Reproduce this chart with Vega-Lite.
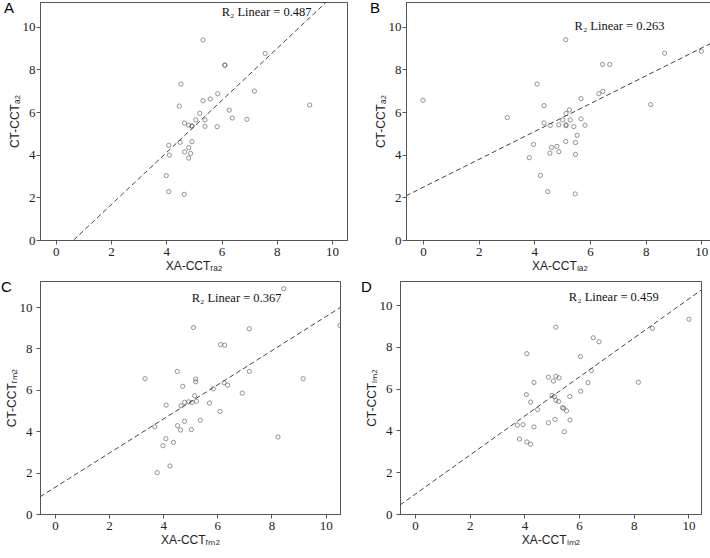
{
  "$schema": "https://vega.github.io/schema/vega-lite/v6.json",
  "padding": {"left": 0, "top": 0, "right": 0, "bottom": 0},
  "background": "white",
  "datasets": {
    "A": [
      {"x": 5.33, "y": 9.38}, {"x": 7.58, "y": 8.75}, {"x": 6.12, "y": 8.2}, {"x": 6.12, "y": 8.2},
      {"x": 4.53, "y": 7.31}, {"x": 7.19, "y": 6.98}, {"x": 5.86, "y": 6.86}, {"x": 5.33, "y": 6.53},
      {"x": 5.59, "y": 6.61}, {"x": 4.47, "y": 6.28}, {"x": 6.28, "y": 6.09}, {"x": 5.21, "y": 5.94},
      {"x": 6.39, "y": 5.72}, {"x": 6.92, "y": 5.66}, {"x": 5.07, "y": 5.63}, {"x": 5.4, "y": 5.63},
      {"x": 4.66, "y": 5.48}, {"x": 4.81, "y": 5.39}, {"x": 4.93, "y": 5.34}, {"x": 4.93, "y": 5.34},
      {"x": 5.4, "y": 5.33}, {"x": 5.84, "y": 5.31}, {"x": 4.09, "y": 4.44}, {"x": 4.5, "y": 4.58},
      {"x": 4.93, "y": 4.61}, {"x": 4.11, "y": 3.98}, {"x": 4.66, "y": 4.13}, {"x": 4.81, "y": 4.33},
      {"x": 4.88, "y": 4.06}, {"x": 4.81, "y": 3.84}, {"x": 4.0, "y": 3.02}, {"x": 4.09, "y": 2.27},
      {"x": 4.65, "y": 2.14}, {"x": 9.19, "y": 6.33}
    ],
    "B": [
      {"x": 0.0, "y": 6.55}, {"x": 3.03, "y": 5.74}, {"x": 5.13, "y": 9.39}, {"x": 6.45, "y": 8.23},
      {"x": 6.71, "y": 8.23}, {"x": 8.68, "y": 8.76}, {"x": 10.0, "y": 8.85}, {"x": 4.1, "y": 7.31},
      {"x": 8.18, "y": 6.35}, {"x": 6.32, "y": 6.86}, {"x": 6.46, "y": 6.97}, {"x": 5.68, "y": 6.63},
      {"x": 4.35, "y": 6.3}, {"x": 5.14, "y": 5.93}, {"x": 5.26, "y": 6.1}, {"x": 4.35, "y": 5.49},
      {"x": 5.02, "y": 5.63}, {"x": 5.29, "y": 5.63}, {"x": 5.68, "y": 5.68}, {"x": 4.57, "y": 5.37},
      {"x": 4.88, "y": 5.4}, {"x": 5.14, "y": 5.4}, {"x": 5.14, "y": 5.36}, {"x": 5.42, "y": 5.32},
      {"x": 5.82, "y": 5.38}, {"x": 5.54, "y": 4.91}, {"x": 5.13, "y": 4.62}, {"x": 5.48, "y": 4.57},
      {"x": 3.97, "y": 4.48}, {"x": 4.62, "y": 4.34}, {"x": 4.81, "y": 4.39}, {"x": 4.56, "y": 4.07},
      {"x": 4.88, "y": 4.14}, {"x": 5.48, "y": 4.01}, {"x": 3.82, "y": 3.86}, {"x": 4.22, "y": 3.03},
      {"x": 4.48, "y": 2.27}, {"x": 5.47, "y": 2.16}
    ],
    "C": [
      {"x": 8.45, "y": 10.89}, {"x": 10.53, "y": 9.11}, {"x": 5.12, "y": 9.01}, {"x": 7.18, "y": 8.95},
      {"x": 6.12, "y": 8.19}, {"x": 6.27, "y": 8.16}, {"x": 3.33, "y": 6.54}, {"x": 4.52, "y": 6.89},
      {"x": 7.18, "y": 6.89}, {"x": 9.17, "y": 6.54}, {"x": 5.2, "y": 6.52}, {"x": 5.2, "y": 6.39},
      {"x": 4.72, "y": 6.17}, {"x": 6.25, "y": 6.34}, {"x": 6.38, "y": 6.23}, {"x": 5.85, "y": 6.05},
      {"x": 6.92, "y": 5.84}, {"x": 5.16, "y": 5.71}, {"x": 4.11, "y": 5.26}, {"x": 4.66, "y": 5.23},
      {"x": 4.79, "y": 5.4}, {"x": 4.94, "y": 5.42}, {"x": 5.07, "y": 5.39}, {"x": 5.23, "y": 5.45},
      {"x": 5.71, "y": 5.36}, {"x": 6.1, "y": 4.96}, {"x": 4.79, "y": 4.48}, {"x": 4.53, "y": 4.27},
      {"x": 5.37, "y": 4.53}, {"x": 3.69, "y": 4.21}, {"x": 4.64, "y": 4.06}, {"x": 5.04, "y": 4.08},
      {"x": 4.1, "y": 3.64}, {"x": 4.38, "y": 3.46}, {"x": 3.99, "y": 3.3}, {"x": 8.24, "y": 3.72},
      {"x": 4.25, "y": 2.32}, {"x": 3.78, "y": 2.0}
    ],
    "D": [
      {"x": 5.15, "y": 8.95}, {"x": 10.02, "y": 9.33}, {"x": 8.68, "y": 8.89}, {"x": 6.52, "y": 8.44},
      {"x": 6.73, "y": 8.25}, {"x": 4.09, "y": 7.68}, {"x": 6.05, "y": 7.54}, {"x": 8.17, "y": 6.31},
      {"x": 6.45, "y": 6.87}, {"x": 4.88, "y": 6.55}, {"x": 5.15, "y": 6.6}, {"x": 5.27, "y": 6.52},
      {"x": 5.06, "y": 6.37}, {"x": 4.35, "y": 6.3}, {"x": 6.33, "y": 6.29}, {"x": 4.07, "y": 5.72},
      {"x": 5.01, "y": 5.68}, {"x": 5.1, "y": 5.62}, {"x": 5.66, "y": 5.63}, {"x": 6.06, "y": 5.88},
      {"x": 4.23, "y": 5.36}, {"x": 5.15, "y": 5.44}, {"x": 5.25, "y": 5.39}, {"x": 5.39, "y": 5.09},
      {"x": 5.44, "y": 5.06}, {"x": 5.54, "y": 4.94}, {"x": 4.48, "y": 5.0}, {"x": 4.88, "y": 4.37},
      {"x": 5.12, "y": 4.53}, {"x": 5.67, "y": 4.5}, {"x": 3.74, "y": 4.26}, {"x": 3.95, "y": 4.28},
      {"x": 4.35, "y": 4.17}, {"x": 5.46, "y": 3.94}, {"x": 3.82, "y": 3.59}, {"x": 4.09, "y": 3.45},
      {"x": 4.23, "y": 3.34}
    ],
    "fitA": [{"x": 0.65, "y": 0.0}, {"x": 9.8, "y": 11.17}],
    "fitB": [{"x": -0.61, "y": 2.07}, {"x": 10.42, "y": 9.27}],
    "fitC": [{"x": -0.55, "y": 0.83}, {"x": 10.53, "y": 9.97}],
    "fitD": [{"x": -0.55, "y": 0.43}, {"x": 10.46, "y": 10.72}],
    "labA": [{"label": "R₂ Linear = 0.487", "lx": 7.63, "ly": 10.5}],
    "labB": [{"label": "R₂ Linear = 0.263", "lx": 7.06, "ly": 9.84}],
    "labC": [{"label": "R₂ Linear = 0.367", "lx": 6.71, "ly": 10.24}],
    "labD": [{"label": "R₂ Linear = 0.459", "lx": 7.27, "ly": 10.2}]
  },
  "config": {
    "view": {"stroke": "#555", "strokeWidth": 1},
    "axis": {
      "grid": false, "domainColor": "#555", "tickColor": "#555", "tickSize": 4,
      "labelFont": "Liberation Serif", "labelFontSize": 13, "labelColor": "#222", "labelPadding": 1,
      "titleFont": "Liberation Sans", "titleFontSize": 12, "titleFontWeight": "normal", "titleColor": "#222"
    },
    "axisX": {"titlePadding": 2},
    "axisY": {"titlePadding": 1},
    "text": {"font": "Liberation Serif", "fontSize": 12.5, "align": "center", "baseline": "alphabetic", "color": "#111"},
    "title": {"anchor": "start", "frame": "bounds", "offset": -14, "dx": -4, "font": "Liberation Sans", "fontSize": 15, "fontWeight": "normal", "baseline": "alphabetic", "color": "#000"}
  },
  "vconcat": [
    {
      "hconcat": [
        {
          "width": 307, "height": 238,
          "title": {"text": "A"},
          "layer": [
            {"data": {"name": "fitA"}, "mark": {"type": "line", "strokeDash": [5, 3], "color": "#444", "strokeWidth": 1, "clip": true},
             "encoding": {
               "x": {"field": "x", "type": "quantitative", "scale": {"domain": [-0.57, 10.54], "nice": false, "zero": false}, "axis": {"values": [0, 2, 4, 6, 8, 10], "title": "XA-CCTᵣₐ₂"}},
               "y": {"field": "y", "type": "quantitative", "scale": {"domain": [0, 11.16], "nice": false, "zero": false}, "axis": {"values": [0, 2, 4, 6, 8, 10], "title": "CT-CCTₐ₂"}}
             }},
            {"data": {"name": "A"}, "mark": {"type": "point", "shape": "circle", "filled": false, "size": 18, "strokeWidth": 0.9, "color": "#555", "clip": true},
             "encoding": {"x": {"field": "x", "type": "quantitative", "title": "XA-CCTᵣₐ₂"}, "y": {"field": "y", "type": "quantitative", "title": "CT-CCTₐ₂"}}},
            {"data": {"name": "labA"}, "mark": {"type": "text"},
             "encoding": {"x": {"field": "lx", "type": "quantitative", "title": "XA-CCTᵣₐ₂"}, "y": {"field": "ly", "type": "quantitative", "title": "CT-CCTₐ₂"}, "text": {"field": "label"}}}
          ]
        },
        {
          "width": 307, "height": 238,
          "title": {"text": "B"},
          "layer": [
            {"data": {"name": "fitB"}, "mark": {"type": "line", "strokeDash": [5, 3], "color": "#444", "strokeWidth": 1, "clip": true},
             "encoding": {
               "x": {"field": "x", "type": "quantitative", "scale": {"domain": [-0.61, 10.42], "nice": false, "zero": false}, "axis": {"values": [0, 2, 4, 6, 8, 10], "title": "XA-CCTₗₐ₂"}},
               "y": {"field": "y", "type": "quantitative", "scale": {"domain": [0, 11.16], "nice": false, "zero": false}, "axis": {"values": [0, 2, 4, 6, 8, 10], "title": "CT-CCTₐ₂"}}
             }},
            {"data": {"name": "B"}, "mark": {"type": "point", "shape": "circle", "filled": false, "size": 18, "strokeWidth": 0.9, "color": "#555", "clip": true},
             "encoding": {"x": {"field": "x", "type": "quantitative", "title": "XA-CCTₗₐ₂"}, "y": {"field": "y", "type": "quantitative", "title": "CT-CCTₐ₂"}}},
            {"data": {"name": "labB"}, "mark": {"type": "text"},
             "encoding": {"x": {"field": "lx", "type": "quantitative", "title": "XA-CCTₗₐ₂"}, "y": {"field": "ly", "type": "quantitative", "title": "CT-CCTₐ₂"}, "text": {"field": "label"}}}
          ]
        }
      ],
      "spacing": 21
    },
    {
      "hconcat": [
        {
          "width": 300, "height": 233,
          "title": {"text": "C"},
          "layer": [
            {"data": {"name": "fitC"}, "mark": {"type": "line", "strokeDash": [5, 3], "color": "#444", "strokeWidth": 1, "clip": true},
             "encoding": {
               "x": {"field": "x", "type": "quantitative", "scale": {"domain": [-0.55, 10.53], "nice": false, "zero": false}, "axis": {"values": [0, 2, 4, 6, 8, 10], "title": "XA-CCTᵣₘ₂"}},
               "y": {"field": "y", "type": "quantitative", "scale": {"domain": [0, 11.26], "nice": false, "zero": false}, "axis": {"values": [0, 2, 4, 6, 8, 10], "title": "CT-CCTᵣₘ₂", "labelPadding": 4}}
             }},
            {"data": {"name": "C"}, "mark": {"type": "point", "shape": "circle", "filled": false, "size": 18, "strokeWidth": 0.9, "color": "#555", "clip": true},
             "encoding": {"x": {"field": "x", "type": "quantitative", "title": "XA-CCTᵣₘ₂"}, "y": {"field": "y", "type": "quantitative", "title": "CT-CCTᵣₘ₂"}}},
            {"data": {"name": "labC"}, "mark": {"type": "text"},
             "encoding": {"x": {"field": "lx", "type": "quantitative", "title": "XA-CCTᵣₘ₂"}, "y": {"field": "ly", "type": "quantitative", "title": "CT-CCTᵣₘ₂"}, "text": {"field": "label"}}}
          ]
        },
        {
          "width": 301, "height": 233,
          "title": {"text": "D"},
          "layer": [
            {"data": {"name": "fitD"}, "mark": {"type": "line", "strokeDash": [5, 3], "color": "#444", "strokeWidth": 1, "clip": true},
             "encoding": {
               "x": {"field": "x", "type": "quantitative", "scale": {"domain": [-0.55, 10.46], "nice": false, "zero": false}, "axis": {"values": [0, 2, 4, 6, 8, 10], "title": "XA-CCTₗₘ₂"}},
               "y": {"field": "y", "type": "quantitative", "scale": {"domain": [0, 11.16], "nice": false, "zero": false}, "axis": {"values": [0, 2, 4, 6, 8, 10], "title": "CT-CCTₗₘ₂", "labelPadding": 4}}
             }},
            {"data": {"name": "D"}, "mark": {"type": "point", "shape": "circle", "filled": false, "size": 18, "strokeWidth": 0.9, "color": "#555", "clip": true},
             "encoding": {"x": {"field": "x", "type": "quantitative", "title": "XA-CCTₗₘ₂"}, "y": {"field": "y", "type": "quantitative", "title": "CT-CCTₗₘ₂"}}},
            {"data": {"name": "labD"}, "mark": {"type": "text"},
             "encoding": {"x": {"field": "lx", "type": "quantitative", "title": "XA-CCTₗₘ₂"}, "y": {"field": "ly", "type": "quantitative", "title": "CT-CCTₗₘ₂"}, "text": {"field": "label"}}}
          ]
        }
      ],
      "spacing": 19
    }
  ],
  "spacing": 7
}
